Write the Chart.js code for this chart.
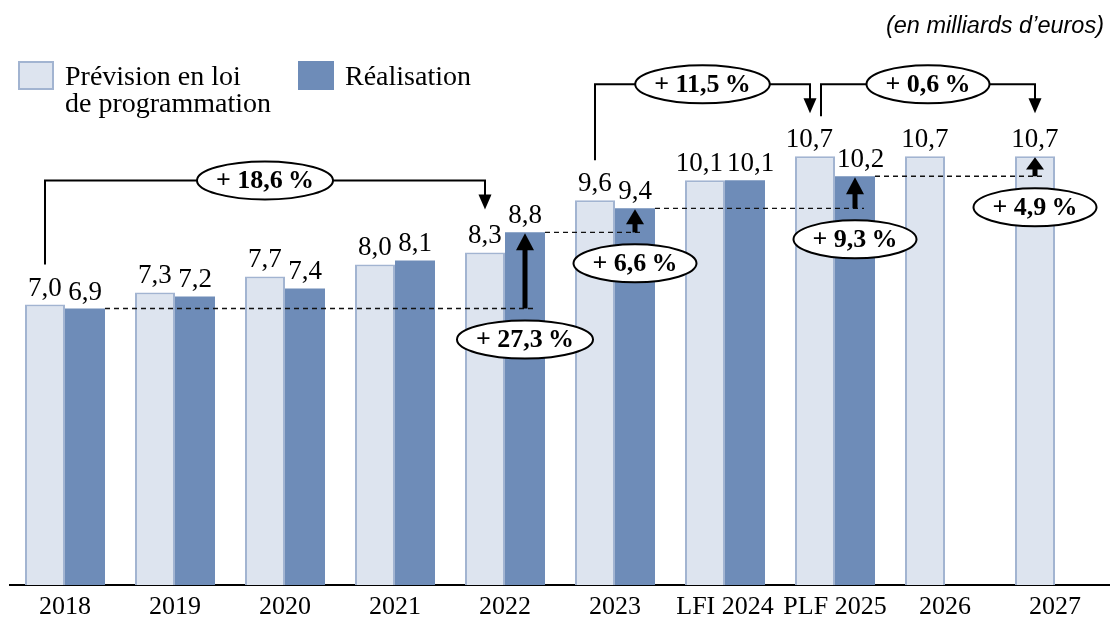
<!DOCTYPE html>
<html><head><meta charset="utf-8">
<script src="https://cdn.jsdelivr.net/npm/chart.js@4"></script>
<style>html,body{margin:0;padding:0;background:#fff}canvas{display:block}</style>
</head><body>
<canvas id="c" width="1110" height="618"></canvas>
<script>
const categories = ['2018','2019','2020','2021','2022','2023','LFI 2024','PLF 2025','2026','2027'];
const previsionValues = [7.0,7.3,7.7,8.0,8.3,9.6,10.1,10.7,10.7,10.7];
const realisationValues = [6.9,7.2,7.4,8.1,8.8,9.4,10.1,10.2,null,null];
const seriesNames = [['Prévision en loi','de programmation'],['Réalisation']];
const unitNote = '(en milliards d’euros)';
// evolution brackets between forecasts
const bracketFrom = [0,5,7];
const bracketTo = [4,7,9];
const bracketLabels = ['+ 18,6\u2009%','+ 11,5\u2009%','+ 0,6\u2009%'];
// gap arrows from a realisation bar to a target bar
const gapFrom = [0,4,5,7];
const gapToIndex = [4,5,7,9];
const gapToSeries = [1,1,1,0];
const gapLabels = ['+ 27,3\u2009%','+ 6,6\u2009%','+ 9,3\u2009%','+ 4,9\u2009%'];

const SERIF = '"Liberation Serif", "Times New Roman", serif';
const COL_PREV = '#dde4ef', COL_PREV_B = '#a2b4d1', COL_REAL = '#6e8cb8';

function fmt(v){ return v.toFixed(1).replace('.', ','); }

function ellipseLabel(ctx, cx, cy, text, ry){
  ctx.font = 'bold 26px ' + SERIF;
  const tw = ctx.measureText(text).width;
  const rx = tw/2 + 19;
  ctx.beginPath();
  ctx.ellipse(cx, cy, rx, ry, 0, 0, Math.PI*2);
  ctx.fillStyle = '#fff'; ctx.fill();
  ctx.lineWidth = 2; ctx.strokeStyle = '#000'; ctx.stroke();
  ctx.fillStyle = '#000'; ctx.textAlign = 'center'; ctx.textBaseline = 'middle';
  ctx.fillText(text, cx, cy + 1);
}
function head(ctx, x, tipY, dir, w, h){
  ctx.beginPath();
  ctx.moveTo(x, tipY);
  ctx.lineTo(x - w/2, tipY - dir*h);
  ctx.lineTo(x + w/2, tipY - dir*h);
  ctx.closePath(); ctx.fillStyle = '#000'; ctx.fill();
}

const annotations = {
  id: 'annotations',
  afterDatasetsDraw(chart){
    const ctx = chart.ctx;
    const pv = chart.getDatasetMeta(0).data;
    const rv = chart.getDatasetMeta(1).data;
    ctx.save();
    // value labels
    ctx.font = '27px ' + SERIF; ctx.fillStyle = '#000';
    ctx.textAlign = 'center'; ctx.textBaseline = 'alphabetic';
    categories.forEach((c, i) => {
      const a = previsionValues[i], b = realisationValues[i];
      const ta = fmt(a);
      let sa = 0, sb = 0;
      if (b != null) {
        const tb = fmt(b);
        const wa = ctx.measureText(ta).width, wb = ctx.measureText(tb).width;
        const over = (wa + wb)/2 + 4 - pv[i].width;
        if (over > 0) { sa = -over/2; sb = over/2; }
        ctx.fillText(tb, rv[i].x + sb, rv[i].y - 9);
      }
      ctx.fillText(ta, pv[i].x + sa, pv[i].y - 9);
    });
    // dashed reference lines and gap arrows
    gapFrom.forEach((f, k) => {
      const src = rv[f];
      const tgt = (gapToSeries[k] === 0 ? pv : rv)[gapToIndex[k]];
      const y0 = src.y, x0 = src.x + src.width/2, ax = tgt.x;
      ctx.beginPath(); ctx.setLineDash([5,4]); ctx.lineWidth = 1.3; ctx.strokeStyle = '#111';
      ctx.moveTo(x0, y0); ctx.lineTo(ax + 9, y0); ctx.stroke(); ctx.setLineDash([]);
      const tip = tgt.y + 1, len = y0 - tip;
      const hl = Math.min(17, len * 0.65);
      ctx.fillStyle = '#000';
      ctx.fillRect(ax - 2.5, tip + hl - 1, 5, y0 - (tip + hl - 1));
      head(ctx, ax, tip, -1, 18, hl);
    });
    gapFrom.forEach((f, k) => {
      const src = rv[f];
      const tgt = (gapToSeries[k] === 0 ? pv : rv)[gapToIndex[k]];
      ellipseLabel(ctx, tgt.x, src.y + 31, gapLabels[k], 19);
    });
    // brackets
    bracketFrom.forEach((f, k) => {
      const t = bracketTo[k];
      const a = pv[f], b = pv[t];
      const sx = a.x + (bracketTo.includes(f) ? 6 : 0);
      const ex = b.x - (bracketFrom.includes(t) ? 5 : 0);
      const sy = a.y - 40, ty = b.y - 43;
      const top = Math.min(sy, ty) - 29;
      ctx.beginPath(); ctx.lineWidth = 2; ctx.strokeStyle = '#000';
      ctx.moveTo(sx, sy); ctx.lineTo(sx, top); ctx.lineTo(ex, top); ctx.lineTo(ex, ty - 10);
      ctx.stroke();
      head(ctx, ex, ty, 1, 13, 15);
      ellipseLabel(ctx, (sx + ex)/2, top, bracketLabels[k], 19);
    });
    // legend
    const ds = chart.data.datasets;
    const boxX = [18, 298];
    ds.forEach((d, i) => {
      const bx = boxX[i];
      ctx.fillStyle = d.backgroundColor;
      ctx.fillRect(bx, 61, 36, 29);
      if (d.borderWidth) { ctx.lineWidth = 2; ctx.strokeStyle = d.borderColor; ctx.strokeRect(bx + 1, 62, 34, 27); }
      ctx.fillStyle = '#000'; ctx.font = '28px ' + SERIF;
      ctx.textAlign = 'left'; ctx.textBaseline = 'alphabetic';
      seriesNames[i].forEach((line, j) => ctx.fillText(line, bx + 47, 85 + j*27));
    });
    // unit note
    ctx.font = 'italic 23.5px "Liberation Sans", Arial, sans-serif';
    ctx.textAlign = 'right'; ctx.fillStyle = '#000';
    ctx.fillText(unitNote, 1104, 33);
    ctx.restore();
  }
};

new Chart(document.getElementById('c'), {
  type: 'bar',
  data: {
    labels: categories,
    datasets: [
      { label: seriesNames[0].join(' '), data: previsionValues, backgroundColor: COL_PREV, borderColor: COL_PREV_B, borderWidth: 2 },
      { label: seriesNames[1].join(' '), data: realisationValues, backgroundColor: COL_REAL, borderWidth: 0 }
    ]
  },
  options: {
    responsive: false, animation: false, devicePixelRatio: 1,
    layout: { padding: { left: 10, right: 0, top: 24, bottom: -11 } },
    datasets: { bar: { categoryPercentage: 0.7273, barPercentage: 1.0 } },
    plugins: { legend: { display: false }, tooltip: { enabled: false } },
    scales: {
      x: {
        grid: { display: false, drawTicks: false },
        border: { display: true, color: '#000', width: 2 },
        ticks: { color: '#000', font: { family: SERIF, size: 26, lineHeight: 1 }, padding: 9, autoSkip: false, maxRotation: 0 }
      },
      y: { display: false, min: 0, max: 14 }
    }
  },
  plugins: [annotations]
});
</script>
</body></html>
